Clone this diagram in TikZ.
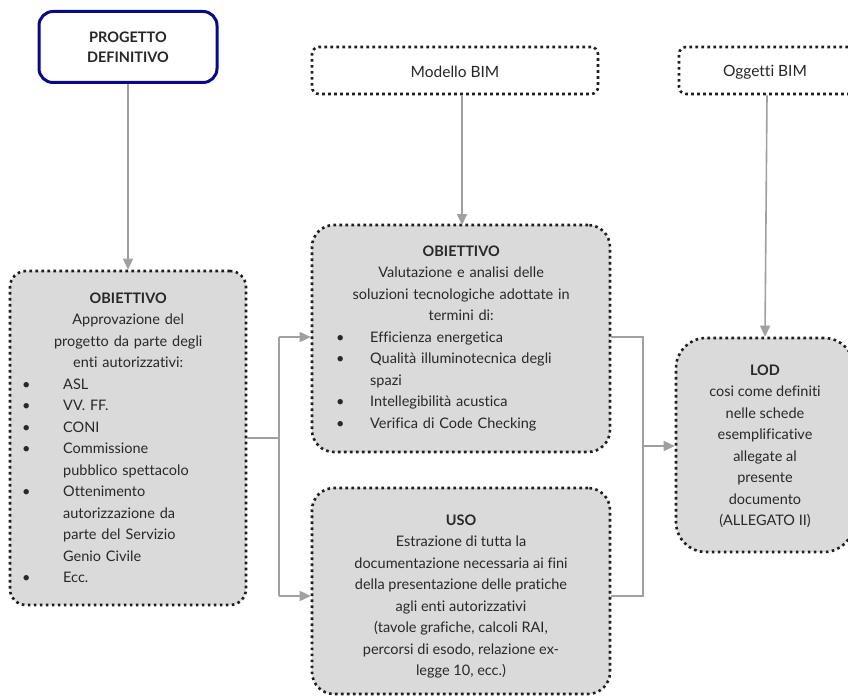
\documentclass[tikz,border=0pt]{standalone}
\usepackage{fontspec}
\setmainfont{Lato}[Ligatures=NoCommon]
\usetikzlibrary{arrows.meta}
\definecolor{boxgray}{RGB}{218,218,218}
\definecolor{dotc}{RGB}{30,30,30}
\definecolor{navyc}{RGB}{10,10,130}
\definecolor{linec}{RGB}{160,160,160}
\definecolor{textc}{RGB}{40,40,40}
\newcommand{\bul}[3]{\par\hangindent=#1\hangafter=1\noindent\makebox[#1][l]{\hspace{#2}\textbullet}#3\par}
\begin{document}
\begin{tikzpicture}[x=1pt,y=-1pt,
  dotbox/.style={draw=dotc, line width=2.6pt, dash pattern=on 2.6pt off 3.4pt, fill=boxgray, inner sep=0pt},
  topbox/.style={draw=dotc, line width=2.6pt, dash pattern=on 2.6pt off 3.4pt, fill=white, inner sep=0pt, rounded corners=7pt},
  txt/.style={inner sep=0pt, text=textc, font=\fontsize{14.5}{21.5}\selectfont\setlength\parindent{0pt}},
  toptxt/.style={inner sep=0pt, text=black!85, font=\fontsize{15.5}{20}\selectfont},
  conn/.style={draw=linec, line width=1.6pt},
  arr/.style={conn, -{Triangle[length=11pt,width=10pt]}}
]
\useasboundingbox (0,0) rectangle (848,698);

% top boxes
\node[draw=navyc, line width=3pt, rounded corners=14pt, fill=white, minimum width=178pt, minimum height=71pt] (PD) at (128,47) {};
\node[toptxt, anchor=north, align=center, font=\fontsize{14.5}{20}\selectfont\bfseries] (PDt) at (128,32) {PROGETTO\\DEFINITIVO};

\node[topbox, minimum width=286pt, minimum height=47pt] (MB) at (455,70.5) {};
\node[toptxt] (MBt) at (455,72) {Modello BIM};

\node[topbox, minimum width=176pt, minimum height=47pt] (OB) at (767,70.5) {};
\node[toptxt] (OBt) at (765,72) {Oggetti BIM};

% gray boxes
\node[dotbox, rounded corners=16pt, minimum width=236pt, minimum height=334pt] (L) at (128,438) {};
\node[dotbox, rounded corners=22pt, minimum width=298pt, minimum height=227pt] (M1) at (461,338.5) {};
\node[dotbox, rounded corners=22pt, minimum width=298pt, minimum height=206pt] (M2) at (461,591) {};
\node[dotbox, rounded corners=30pt, minimum width=178pt, minimum height=214pt] (LOD) at (765,445) {};

% texts
\node[txt, anchor=north west, text width=220pt] (Lt) at (18,292.5) {%
{\centering\textbf{OBIETTIVO}\\ Approvazione del\\ progetto da parte degli\\ enti autorizzativi:\par}
\raggedright
\bul{45pt}{4pt}{ASL}
\bul{45pt}{4pt}{VV. FF.}
\bul{45pt}{4pt}{CONI}
\bul{45pt}{4pt}{Commissione\newline pubblico spettacolo}
\bul{45pt}{4pt}{Ottenimento\newline autorizzazione da\newline parte del Servizio\newline Genio Civile}
\bul{45pt}{4pt}{Ecc.}};

\node[txt, anchor=north west, text width=280pt] (M1t) at (321,245.5) {%
{\centering\textbf{OBIETTIVO}\\ Valutazione e analisi delle\\ soluzioni tecnologiche adottate in\\ termini di:\par}
\raggedright
\bul{49pt}{15pt}{Efficienza energetica}
\bul{49pt}{15pt}{Qualità illuminotecnica degli\newline spazi}
\bul{49pt}{15pt}{Intellegibilità acustica}
\bul{49pt}{15pt}{Verifica di Code Checking}};

\node[txt, anchor=north, align=center] (M2t) at (461,514.5) {%
\textbf{USO}\\ Estrazione di tutta la\\ documentazione necessaria ai fini\\ della presentazione delle pratiche\\ agli enti autorizzativi\\ (tavole grafiche, calcoli RAI,\\ percorsi di esodo, relazione ex-\\ legge 10, ecc.)};

\node[txt, anchor=north, align=center] (LODt) at (765,364.5) {%
\textbf{LOD}\\ cosi come definiti\\ nelle schede\\ esemplificative\\ allegate al\\ presente\\ documento\\ (ALLEGATO II)};

% connectors
\draw[arr] (PD.south) -- (L.north);
\draw[arr] (MB.south -| 462,0) -- (462,225);
\draw[arr] (OB.south) -- (LOD.north);

\coordinate (j1) at (279,438);
\coordinate (j1t) at (279,337);
\coordinate (j1b) at (279,596);
\draw[conn] (L.east |- j1) -- (j1);
\draw[conn] (j1t) -- (j1b);
\draw[arr] (j1t) -- (M1.west |- j1t);
\draw[arr] (j1b) -- (M2.west |- j1b);

\coordinate (j2t) at (643,337);
\coordinate (j2b) at (643,596);
\coordinate (j2) at (643,446);
\draw[conn] (M1.east |- j2t) -- (j2t) -- (j2b) -- (M2.east |- j2b);
\draw[arr] (j2) -- (LOD.west |- j2);
\end{tikzpicture}
\end{document}
